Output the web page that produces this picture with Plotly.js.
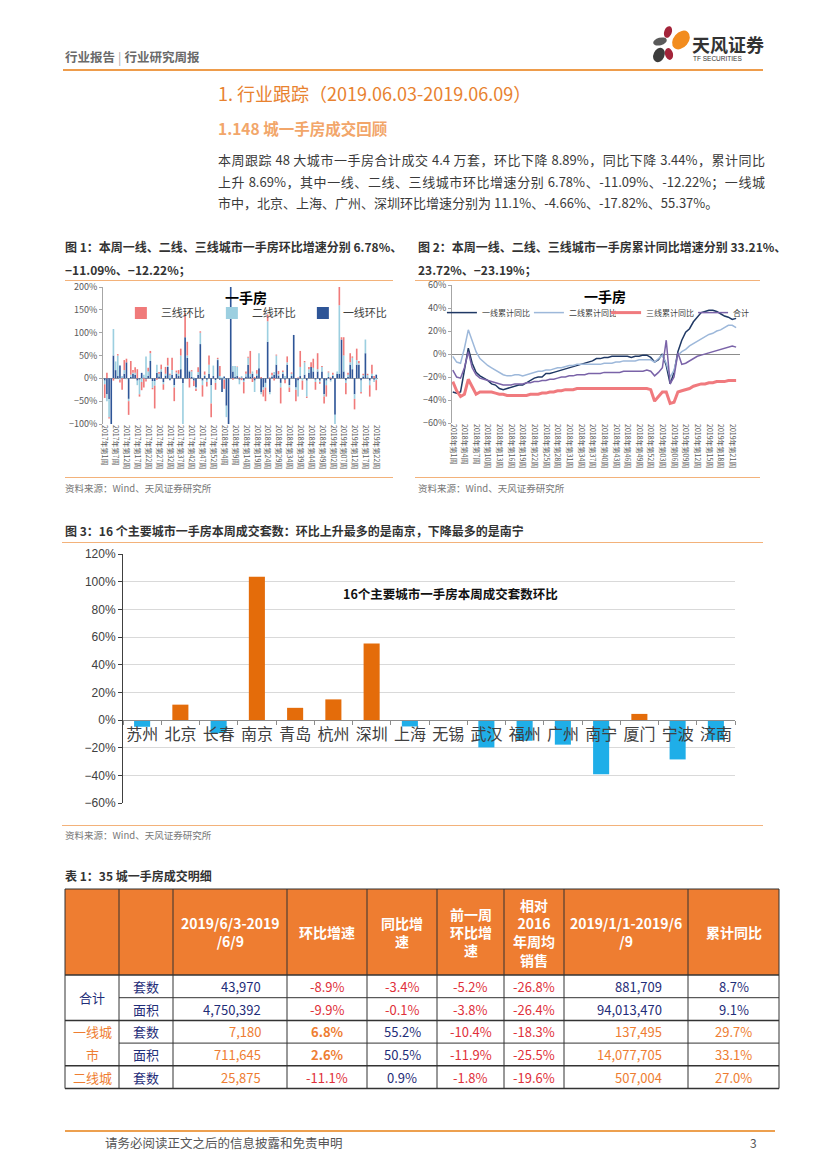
<!DOCTYPE html>
<html><head><meta charset="utf-8">
<script src="https://cdn.plot.ly/plotly-3.0.1.min.js"></script>
<style>
body{margin:0;background:#fff;}
#page{position:relative;width:827px;height:1170px;overflow:hidden;font-family:"Noto Sans CJK SC","Liberation Sans",sans-serif;color:#333;background:#fff;}
.t{position:absolute;white-space:nowrap;}
.hl{position:absolute;height:0;}
.chart{position:absolute;}
.para{position:absolute;left:218px;width:547px;font-size:13px;color:#3a3a3a;line-height:21.5px;}
.para div{text-align:justify;text-align-last:justify;white-space:nowrap;}
.para div.last{text-align-last:left;}
.figt{font-size:12px;font-weight:bold;color:#333;line-height:16px;}
.src{font-size:9.5px;color:#777;line-height:12px;}
</style></head>
<body>
<div id="page">
  <div class="t" style="left:65px;top:48px;font-size:12.5px;font-weight:bold;color:#6a6a6a;line-height:18px;">行业报告<span style="font-weight:normal;color:#aaa;margin:0 3px;">|</span>行业研究周报</div>
  <svg class="t" style="left:640px;top:18px;" width="130" height="52" viewBox="640 18 130 52">
    <ellipse cx="668" cy="32" rx="3.8" ry="6" transform="rotate(20 668 32)" fill="#A3243A"/>
    <ellipse cx="681" cy="40" rx="7.5" ry="10.5" transform="rotate(40 681 40)" fill="#F28C1E"/>
    <ellipse cx="660" cy="41.5" rx="7" ry="3.8" transform="rotate(-15 660 41.5)" fill="#5a5a5a"/>
    <ellipse cx="659" cy="55" rx="5.5" ry="7.5" transform="rotate(25 659 55)" fill="#3c3c3c"/>
    <ellipse cx="669" cy="54" rx="4" ry="6" transform="rotate(-15 669 54)" fill="#A3243A"/>
    <text x="692" y="52" font-family="Noto Sans CJK SC" font-weight="bold" font-size="18" fill="#333">天风证券</text>
    <text x="693" y="61" font-family="Liberation Sans" font-size="6.5" fill="#333">TF SECURITIES</text>
  </svg>
  <div class="hl" style="left:63px;top:69px;width:700px;border-top:2px solid #EE9C4B;"></div>

  <div class="t" style="left:218px;top:80px;font-size:18px;color:#E8822F;line-height:26px;">1. 行业跟踪（2019.06.03-2019.06.09）</div>
  <div class="t" style="left:218px;top:117px;font-size:15.5px;font-weight:bold;color:#F2A66A;line-height:22px;">1.148 城一手房成交回顾</div>
  <div class="para" style="top:149px;">
    <div>本周跟踪 48 大城市一手房合计成交 4.4 万套，环比下降 8.89%，同比下降 3.44%，累计同比</div>
    <div>上升 8.69%，其中一线、二线、三线城市环比增速分别 6.78%、-11.09%、-12.22%；一线城</div>
    <div class="last">市中，北京、上海、广州、深圳环比增速分别为 11.1%、-4.66%、-17.82%、55.37%。</div>
  </div>

  <div class="t figt" style="left:65px;top:239px;">图 1：本周一线、二线、三线城市一手房环比增速分别 6.78%、</div>
  <div class="t figt" style="left:65px;top:262px;">−11.09%、−12.22%；</div>
  <div class="t figt" style="left:418px;top:239px;">图 2：本周一线、二线、三线城市一手房累计同比增速分别 33.21%、</div>
  <div class="t figt" style="left:418px;top:262px;">23.72%、−23.19%；</div>
  <div class="hl" style="left:65px;top:280px;width:328px;border-top:1.5px solid #F3B27A;"></div>
  <div class="hl" style="left:415px;top:280px;width:345px;border-top:1.5px solid #F3B27A;"></div>
  <div id="fig1" class="chart" style="left:63px;top:279px;width:350px;height:199px;"></div>
  <div id="fig2" class="chart" style="left:413px;top:276px;width:390px;height:202px;"></div>
  <div class="hl" style="left:65px;top:477px;width:328px;border-top:1.5px solid #F3B27A;"></div>
  <div class="hl" style="left:415px;top:477px;width:345px;border-top:1.5px solid #F3B27A;"></div>
  <div class="t src" style="left:65px;top:482px;">资料来源：Wind、天风证券研究所</div>
  <div class="t src" style="left:418px;top:482px;">资料来源：Wind、天风证券研究所</div>

  <div class="t figt" style="left:65px;top:523px;">图 3：16 个主要城市一手房本周成交套数：环比上升最多的是南京，下降最多的是南宁</div>
  <div class="hl" style="left:62px;top:542px;width:701px;border-top:1.5px solid #F3B27A;"></div>
  <div id="fig3" class="chart" style="left:63px;top:545px;width:700px;height:280px;"></div>
  <div class="hl" style="left:62px;top:825px;width:701px;border-top:1.5px solid #F3B27A;"></div>
  <div class="t src" style="left:65px;top:829px;">资料来源：Wind、天风证券研究所</div>

  <div class="t figt" style="left:65px;top:868px;">表 1：35 城一手房成交明细</div>
  <div id="tbl" class="chart" style="left:63px;top:887px;width:718px;height:204px;"></div>

  <div class="hl" style="left:65px;top:1130px;width:710px;border-top:2px solid #EDA04F;"></div>
  <div class="t" style="left:105px;top:1135px;font-size:12.5px;color:#555;line-height:16px;">请务必阅读正文之后的信息披露和免责申明</div>
  <div class="t" style="left:750px;top:1135px;font-size:12px;color:#555;line-height:16px;">3</div>
</div>

<script>
// ---------------- Figure 1 data: weekly WoW change of first-hand housing (%) ----------------
const fig1TickLabels = ['2017年第1周','2017年第7周','2017年第12周','2017年第17周','2017年第22周','2017年第27周','2017年第32周','2017年第37周','2017年第42周','2017年第47周','2017年第52周',
  '2018年第4周','2018年第9周','2018年第14周','2018年第19周','2018年第24周','2018年第29周','2018年第34周','2018年第39周','2018年第44周','2018年第49周',
  '2019年第02周','2019年第07周','2019年第12周','2019年第17周','2019年第22周'];
const tier1WoW = [-5,-35,-45,-100,50,18,5,28,2,10, 35,-45,3,10,8,-5,-3,12,2,-2,
  5,38,-6,-6,12,4,15,-8,6,25, -4,8,-15,10,5,20,-10,90,45,15,
  3,-5,-20,8,75,-5,5,-3,10,-15, 5,-4,40,-3,-30,4,-60,-100,200,15,
  3,5,-3,2,-5,4,30,4,10,-5, 6,22,-30,-20,-10,80,-30,4,8,30,
  6,-10,10,-3,30,-15,5,95,-20,-5, 5,0,8,-5,12,25,15,-3,15,-5,
  15,-35,-5,3,-4,5,-80,10,10,85, 15,-5,3,30,20,-35,30,30,-5,4,
  55,2,-5,5,-3,8];
const tier2WoW = [-8,-15,-40,0,58,19,45,-3,3,8, -2,-5,5,2,4,-10,-32,-8,6,48,
  10,17,-15,-10,18,6,5,-5,4,3, 8,10,-5,3,5,30,-90,0,5,2,
  12,2,-3,6,25,-10,3,-5,20,-40, 23,-6,2,5,2,-3,-25,0,0,12,
  24,20,-10,3,-3,6,15,6,5,-25, 4,33,-5,-5,-10,45,-5,3,6,20,
  3,-10,4,5,5,-5,5,0,-5,-35, 20,-5,27,-35,8,0,8,-5,5,-3,
  10,-5,-10,10,-3,3,-20,5,150,0, 35,-5,5,5,25,-10,10,3,-25,3,
  30,5,-10,5,-5,-4];
const tier3WoW = [-30,12,-3,0,-5,0,3,-6,-25,22, 8,-30,30,6,12,20,-5,-18,-20,-5,
  8,5,-3,-50,-3,4,10,-12,15,17, 2,27,-30,4,8,15,0,53,30,-20,
  3,-12,-5,10,3,-25,7,-10,20,-30, 0,-15,3,22,0,-20,0,0,0,-3,
  0,1,2,-4,-25,5,2,50,-8,3, 8,0,3,-15,-30,15,2,5,-5,2,
  7,-35,3,-8,13,-10,3,0,-25,2, 35,-20,3,-3,5,10,20,-17,35,-4,
  2,-15,-25,2,2,4,0,0,40,5, 40,-25,4,20,3,-23,25,5,-3,3,
  0,3,-25,20,5,-22];

// ---------------- Figure 2 data: cumulative YoY (%) ----------------
const fig2TickLabels = ['2018年第1周','2018年第4周','2018年第7周','2018年第10周','2018年第13周','2018年第16周','2018年第19周','2018年第22周','2018年第25周',
  '2018年第28周','2018年第31周','2018年第34周','2018年第37周','2018年第40周','2018年第43周','2018年第46周','2018年第49周','2018年第52周',
  '2019年第03周','2019年第06周','2019年第09周','2019年第12周','2019年第15周','2019年第18周','2019年第21周'];
const tier1CumYoY = [-33,-34,-33,-15,5,-8,-16,-19,-21,-23,
  -26,-27,-30,-31,-30,-29,-28,-27,-27,-25, -23,-21,-20,-20,-17,-17,-16,-15,-14,-13,
  -12,-11,-10,-9,-8,-7,-6,-4,-4,-3, -3,-2,-2,-2,-2,-2,-3,-2,-2,-1,
  -1,-3,-7,-5,0,-10,-26,-16,2,12, 19,22,28,32,36,37,38,38,37,35, 33,32,30,31];
const tier2CumYoY = [-2,-7,-8,5,21,12,2,-4,-7,-10,
  -12,-14,-16,-18,-19,-19,-18,-18,-19,-18, -17,-16,-15,-15,-14,-14,-13,-12,-12,-11,
  -10,-10,-9,-9,-9,-9,-9,-9,-9,-8, -8,-8,-7,-7,-6,-6,-6,-6,-5,-5,
  -5,-5,-7,-4,-1,-8,-20,-14,-1,2, 4,7,9,11,13,15,17,18,20,21, 23,25,25,23];
const tier3CumYoY = [-24,-32,-37,-35,-22,-28,-35,-33,-33,-33,
  -33,-34,-35,-35,-36,-36,-36,-36,-36,-36, -35,-35,-35,-34,-34,-33,-33,-32,-32,-31,
  -31,-31,-30,-30,-30,-30,-30,-30,-30,-30, -30,-30,-30,-30,-30,-30,-30,-30,-30,-30,
  -30,-31,-41,-37,-33,-33,-43,-42,-33,-32, -31,-30,-28,-27,-26,-26,-25,-25,-24,-24, -24,-23,-23,-23];
const totalCumYoY = [-14,-20,-21,-12,2,-12,-18,-21,-22,-23,
  -24,-25,-26,-27,-27,-27,-26,-26,-26,-25, -25,-24,-24,-23,-23,-22,-22,-21,-20,-20,
  -19,-19,-18,-18,-18,-17,-17,-17,-17,-16, -16,-16,-16,-16,-15,-15,-15,-15,-15,-15,
  -14,-15,-19,-16,-12,12,-26,-20,1,-9, -8,-6,-4,-2,-1,0,1,2,3,4, 5,6,7,6];

// ---------------- Figure 3 data ----------------
const cities = ['苏州','北京','长春','南京','青岛','杭州','深圳','上海','无锡','武汉','福州','广州','南宁','厦门','宁波','济南'];
const cityWoW = [-4.9, 11.1, -9.5, 103.5, 8.8, 14.9, 55.37, -4.66, 0, -19.8, -15, -17.82, -39.3, 4.4, -28.5, -14.5];

// ---------------- Table 1 data ----------------
const tblHeaders = ['', '', '2019/6/3-2019<br>/6/9', '环比增速', '同比增<br>速', '前一周<br>环比增<br>速', '相对<br>2016<br>年周均<br>销售', '2019/1/1-2019/6<br>/9', '累计同比'];
const tblGroup = ['合计', '', '一线城', '市', '二线城'];
const tblMetric = ['套数', '面积', '套数', '面积', '套数'];
const tblWeek = ['43,970', '4,750,392', '7,180', '711,645', '25,875'];
const tblWoW = ['-8.9%', '-9.9%', '6.8%', '2.6%', '-11.1%'];
const tblYoY = ['-3.4%', '-0.1%', '55.2%', '50.5%', '0.9%'];
const tblPrevWoW = ['-5.2%', '-3.8%', '-10.4%', '-11.9%', '-1.8%'];
const tblVs2016 = ['-26.8%', '-26.4%', '-18.3%', '-25.5%', '-19.6%'];
const tblYTD = ['881,709', '94,013,470', '137,495', '14,077,705', '507,004'];
const tblYTDYoY = ['8.7%', '9.1%', '29.7%', '33.1%', '27.0%'];

const CJK = 'Noto Sans CJK SC, Liberation Sans, sans-serif';
const cfg = {staticPlot: true, displayModeBar: false};

// ----- Figure 1 -----
(function(){
  const idx = tier1WoW.map((_, i) => i);
  const tickIdx = fig1TickLabels.map((_, k) => k * 5);
  const traces = [
    {type:'bar', name:'一线环比', x: idx, y: tier1WoW, marker:{color:'#2E5597'}},
    {type:'bar', name:'二线环比', x: idx, y: tier2WoW, marker:{color:'#9CCFE0'}},
    {type:'bar', name:'三线环比', x: idx, y: tier3WoW, marker:{color:'#F07A7A'}}
  ];
  const layout = {
    width:350, height:199, margin:{l:40, r:35, t:8, b:54},
    paper_bgcolor:'rgba(0,0,0,0)', plot_bgcolor:'rgba(0,0,0,0)',
    font:{family:CJK, color:'#404040'},
    barmode:'relative', bargap:0.25,
    xaxis:{range:[-0.8, 125.8], tickvals:tickIdx, ticktext:fig1TickLabels, tickangle:90,
      tickfont:{size:7, color:'#595959'}, showgrid:false, zeroline:false, showline:false, ticks:''},
    yaxis:{range:[-100, 200], dtick:50, ticksuffix:'%', tickfont:{size:9, color:'#595959'},
      showgrid:false, showline:true, linecolor:'#a6a6a6', zeroline:true, zerolinecolor:'#a6a6a6', zerolinewidth:1,
      ticks:'outside', ticklen:3, tickcolor:'#a6a6a6'},
    showlegend:true,
    legend:{orientation:'h', x:0.065, y:0.81, xanchor:'left', yanchor:'middle', entrywidth:46,
      traceorder:'reversed', font:{size:11, color:'#404040'}, bgcolor:'rgba(0,0,0,0)', itemwidth:30},
    annotations:[{text:'<b>一手房</b>', xref:'paper', yref:'paper', x:0.52, y:0.925, xanchor:'center', yanchor:'middle',
      showarrow:false, font:{size:14, color:'#000'}}]
  };
  Plotly.newPlot('fig1', traces, layout, cfg);
})();

// ----- Figure 2 -----
(function(){
  const idx = tier1CumYoY.map((_, i) => i);
  const tickIdx = fig2TickLabels.map((_, k) => k * 3);
  const traces = [
    {type:'scatter', mode:'lines', name:'一线累计同比', x:idx, y:tier1CumYoY, line:{color:'#1F3864', width:1.5}, legend:'legend'},
    {type:'scatter', mode:'lines', name:'二线累计同比', x:idx, y:tier2CumYoY, line:{color:'#9DB8DA', width:1.5}, legend:'legend'},
    {type:'scatter', mode:'lines', name:'三线累计同比', x:idx, y:tier3CumYoY, line:{color:'#F07A7E', width:3}, legend:'legend2'},
    {type:'scatter', mode:'lines', name:'合计', x:idx, y:totalCumYoY, line:{color:'#7A63A8', width:1.5}, legend:'legend2'}
  ];
  const legBase = {orientation:'h', xanchor:'left', yanchor:'middle', entrywidth:42,
      font:{size:8, color:'#404040'}, bgcolor:'rgba(0,0,0,0)', itemwidth:30};
  const layout = {
    width:390, height:202, margin:{l:39, r:63, t:9, b:55},
    paper_bgcolor:'rgba(0,0,0,0)', plot_bgcolor:'rgba(0,0,0,0)',
    font:{family:CJK, color:'#404040'},
    xaxis:{range:[-0.2, 74], tickvals:tickIdx, ticktext:fig2TickLabels, tickangle:90,
      tickfont:{size:7, color:'#595959'}, showgrid:false, zeroline:false, showline:false, ticks:''},
    yaxis:{range:[-60, 60], dtick:20, ticksuffix:'%', tickfont:{size:9, color:'#595959'},
      showgrid:false, showline:true, linecolor:'#a6a6a6', zeroline:true, zerolinecolor:'#8c8c8c', zerolinewidth:1,
      ticks:'outside', ticklen:3, tickcolor:'#a6a6a6'},
    showlegend:true,
    legend:Object.assign({}, legBase, {x:-0.035, y:0.80}),
    legend2:Object.assign({}, legBase, {x:0.535, y:0.80}),
    annotations:[{text:'<b>一手房</b>', xref:'paper', yref:'paper', x:0.53, y:0.92, xanchor:'center', yanchor:'middle',
      showarrow:false, font:{size:14, color:'#000'}}]
  };
  Plotly.newPlot('fig2', traces, layout, cfg);
})();

// ----- Figure 3 -----
(function(){
  const colors = cityWoW.map(v => v >= 0 ? '#E46C0A' : '#1FAEE8');
  const traces = [{type:'bar', x:cities, y:cityWoW, marker:{color:colors}, showlegend:false}];
  const layout = {
    width:700, height:280, margin:{l:60, r:28, t:9, b:22},
    paper_bgcolor:'rgba(0,0,0,0)', plot_bgcolor:'rgba(0,0,0,0)',
    font:{family:CJK, color:'#404040'},
    bargap:0.58,
    xaxis:{type:'category', anchor:'free', position:1/3, showline:true, linecolor:'#8c8c8c', linewidth:1,
      ticks:'outside', tickson:'boundaries', ticklen:4, tickcolor:'#8c8c8c', showgrid:false, zeroline:false,
      tickangle:0, tickfont:{size:16, color:'#404040'}},
    yaxis:{range:[-60, 120], dtick:20, ticksuffix:'%', showgrid:true, gridcolor:'#d9d9d9', gridwidth:1,
      zeroline:false, showline:true, linecolor:'#404040', ticks:'outside', ticklen:4, tickcolor:'#404040',
      tickfont:{size:12, family:'Liberation Sans Narrow, Liberation Sans', color:'#404040'}},
    annotations:[{text:'<b>16个主要城市一手房本周成交套数环比</b>', xref:'paper', yref:'paper', x:0.535, y:0.843,
      xanchor:'center', yanchor:'middle', showarrow:false, font:{size:12.5, color:'#111'}}]
  };
  Plotly.newPlot('fig3', traces, layout, cfg);
})();

// ----- Table 1 (drawn with shapes + annotations on fixed pixel axes) -----
(function(){
  const NAVY = '#1F2D78', RED = '#E0303A', ORG = '#EE7D31';
  const colW = [54, 54, 114, 80, 70, 67, 60, 124, 91];
  const headH = 86, rowH = 22.7;
  const edges = [0];
  colW.forEach(w => edges.push(edges[edges.length - 1] + w));
  const W = edges[edges.length - 1];
  const nRows = tblMetric.length;
  const H = headH + rowH * nRows;
  const rowTop = r => headH + rowH * r;
  const cols = [tblGroup, tblMetric, tblWeek, tblWoW, tblYoY, tblPrevWoW, tblVs2016, tblYTD, tblYTDYoY];
  const rightCols = [2, 7];
  const boldCells = {'3-2': true, '3-3': true};
  const fontColors = [
    [NAVY, NAVY, ORG, ORG, ORG],
    [NAVY, NAVY, NAVY, NAVY, NAVY],
    [NAVY, NAVY, ORG, ORG, ORG],
    [RED, RED, ORG, ORG, RED],
    [RED, RED, NAVY, NAVY, NAVY],
    [RED, RED, RED, RED, RED],
    [RED, RED, RED, RED, RED],
    [NAVY, NAVY, ORG, ORG, ORG],
    [NAVY, NAVY, ORG, ORG, ORG]
  ];
  const groupBreakAfter = [false, true, false, true, true];
  const shapes = [];
  const ann = [];
  const L = {color:'#333', width:1};
  shapes.push({type:'rect', xref:'x', yref:'y', x0:0, x1:W, y0:0, y1:headH, fillcolor:'#EE7D31', line:{width:0}, layer:'below'});
  edges.forEach(x => shapes.push({type:'line', xref:'x', yref:'y', x0:x, x1:x, y0:0, y1:H, line:L}));
  shapes.push({type:'line', xref:'x', yref:'y', x0:0, x1:W, y0:0, y1:0, line:L});
  shapes.push({type:'line', xref:'x', yref:'y', x0:0, x1:W, y0:headH, y1:headH, line:{color:'#333', width:1.5}});
  for (let r = 0; r < nRows; r++) {
    const y = rowTop(r + 1);
    const x0 = groupBreakAfter[r] ? 0 : edges[1];
    const wide = groupBreakAfter[r] ? 1.5 : 1;
    shapes.push({type:'line', xref:'x', yref:'y', x0:x0, x1:W, y0:y, y1:y, line:{color:'#333', width:wide}});
  }
  tblHeaders.forEach((h, c) => {
    if (!h) return;
    ann.push({xref:'x', yref:'y', x:(edges[c] + edges[c + 1]) / 2, y:headH / 2, text:'<b>' + h + '</b>',
      showarrow:false, xanchor:'center', yanchor:'middle', align:'center',
      font:{family:CJK, size:14, color:'#fff'}});
  });
  cols.forEach((col, c) => {
    col.forEach((v, r) => {
      if (!v) return;
      let yc = rowTop(r) + rowH / 2;
      if (c === 0 && r + 1 < nRows && tblGroup[r + 1] === '') yc = rowTop(r + 1);
      const isRight = rightCols.indexOf(c) >= 0;
      const txt = boldCells[c + '-' + r] ? '<b>' + v + '</b>' : v;
      ann.push({xref:'x', yref:'y', x: isRight ? edges[c + 1] - 24 : (edges[c] + edges[c + 1]) / 2, y: yc,
        text: txt, showarrow:false, xanchor: isRight ? 'right' : 'center', yanchor:'middle',
        font:{family:CJK, size:13, color:fontColors[c][r]}});
    });
  });
  const layout = {
    width:718, height:204, margin:{l:0, r:0, t:0, b:0},
    paper_bgcolor:'rgba(0,0,0,0)', plot_bgcolor:'rgba(0,0,0,0)',
    xaxis:{range:[-2, 716], visible:false, fixedrange:true},
    yaxis:{range:[202, -2], visible:false, fixedrange:true},
    shapes: shapes, annotations: ann, showlegend:false
  };
  Plotly.newPlot('tbl', [], layout, cfg);
})();
</script>
</body></html>
